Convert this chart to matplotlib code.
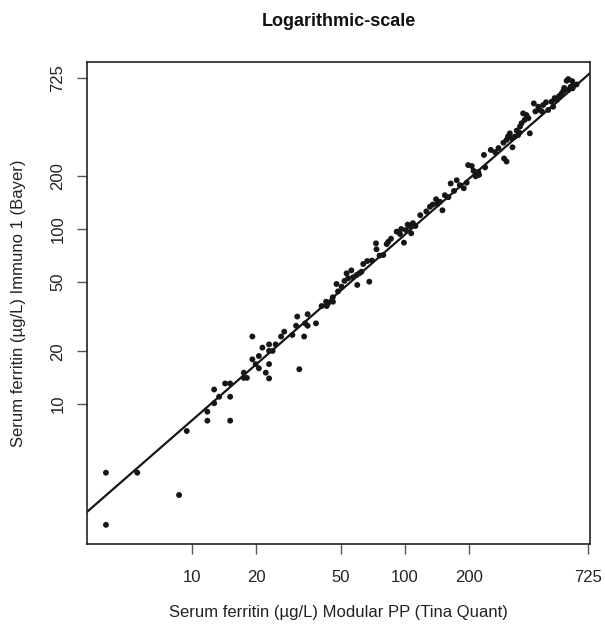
import matplotlib
matplotlib.use("Agg")
import matplotlib.pyplot as plt
import numpy as np

# Data (µg/L)
x_modular = [3.94, 3.94, 5.53, 8.69, 9.44, 11.8, 11.8, 12.7, 12.7, 13.4, 14.3, 15.1, 15.1, 15.1,
             17.5, 17.5, 18.1, 19.2, 19.2, 19.9, 20.6, 20.6, 21.4, 22.2, 23.0, 23.0, 23.0, 23.0,
             23.9, 24.7, 26.2, 27.1, 29.6, 31.2, 30.8, 31.9, 33.6, 34.0, 34.9, 34.9, 38.2, 40.6,
             42.9, 42.6, 45.9, 45.8, 47.7, 50.4, 53.2, 54.1, 57.1, 59.3, 61.0, 59.7, 63.7, 66.5,
             68.0, 73.1, 73.5, 79.1, 83.5, 82.1, 91.4, 94.8, 98.9, 101, 105, 109, 107, 126, 131,
             140, 146, 150, 142, 154, 160, 164, 181, 189, 195, 198, 206, 221, 223, 238, 235, 253,
             290, 300, 311, 317, 328, 340, 320, 292, 300, 359, 372, 347, 353, 386, 403, 423, 430,
             446, 471, 488, 516, 497, 545, 555, 575, 585, 613, 585,
             43.5, 48.5, 52.0, 56.0, 62.5, 70.0, 76.0, 86.0, 96.0, 103, 112, 118, 135, 170, 175,
             210, 215, 265, 275, 305, 335, 345, 365, 380, 410, 440, 460, 505, 530, 560, 600, 620,
             640, 610]
y_immuno = [4.05, 2.04, 4.05, 3.02, 7.01, 8.03, 9.04, 10.1, 12.1, 11.0, 13.1, 13.1, 11.0, 8.03,
            15.1, 14.1, 14.1, 24.3, 18.0, 16.9, 18.8, 16.0, 21.0, 15.1, 21.9, 20.1, 16.9, 14.0,
            20.1, 21.9, 24.3, 25.9, 24.8, 31.6, 28.0, 15.8, 24.3, 28.9, 32.6, 28.0, 28.9, 36.3,
            36.3, 38.4, 38.4, 40.7, 48.5, 46.8, 55.8, 52.3, 53.0, 54.6, 55.8, 47.9, 63.1, 65.6,
            50.0, 82.8, 76.6, 71.0, 84.5, 82.0, 96.6, 93.6, 83.5, 98.6, 104, 108, 94.5, 126, 134,
            148, 143, 128, 139, 156, 152, 182, 178, 171, 184, 232, 229, 212, 204, 225, 265, 283,
            311, 323, 352, 330, 337, 344, 293, 253, 243, 458, 448, 385, 402, 352, 522, 500, 479,
            511, 479, 534, 545, 500, 596, 616, 703, 622, 636, 719,
            37.5, 44.0, 50.5, 58.0, 57.0, 66.0, 70.5, 88.0, 100, 106, 104, 120, 138, 165, 190,
            215, 200, 275, 290, 338, 365, 355, 420, 430, 470, 470, 530, 560, 575, 640, 650, 660,
            670, 700]

# Regression line in log10 space
line_intercept = -0.154
line_slope = 1.061

tick_values = [10, 20, 50, 100, 200, 725]
tick_labels = ["10", "20", "50", "100", "200", "725"]

plt.rcParams['font.family'] = ['Liberation Sans', 'DejaVu Sans']

fig = plt.figure(figsize=(6.05, 6.31), dpi=100)
ax = fig.add_axes([87/605, 1-544/631, (590-87)/605, (544-62)/631])

ax.set_xscale('log')
ax.set_yscale('log')
xlim = (3.21, 740)
ylim = (1.585, 900)
ax.set_xlim(*xlim)
ax.set_ylim(*ylim)

ax.scatter(x_modular, y_immuno, s=18, color='#161616', edgecolors='none', zorder=3)

xl = np.array(xlim)
ax.plot(xl, 10 ** (line_intercept + line_slope * np.log10(xl)), color='#161616', lw=1.6, zorder=2)

ax.xaxis.set_major_locator(matplotlib.ticker.FixedLocator(tick_values))
ax.xaxis.set_major_formatter(matplotlib.ticker.FixedFormatter(tick_labels))
ax.yaxis.set_major_locator(matplotlib.ticker.FixedLocator(tick_values))
ax.yaxis.set_major_formatter(matplotlib.ticker.FixedFormatter(tick_labels))
ax.xaxis.set_minor_locator(matplotlib.ticker.NullLocator())
ax.yaxis.set_minor_locator(matplotlib.ticker.NullLocator())

ax.tick_params(axis='both', which='major', length=7.5, width=1.0, color='#555555',
               labelsize=12, labelcolor='#222222')
ax.tick_params(axis='x', pad=11.5)
ax.tick_params(axis='y', pad=8)
for lab in ax.get_yticklabels():
    lab.set_rotation(90)
    lab.set_va('center')

for sp in ax.spines.values():
    sp.set_linewidth(1.2)
    sp.set_color('#222222')

ax.set_xlabel("Serum ferritin (µg/L) Modular PP (Tina Quant)", fontsize=12, color='#222222')
ax.set_ylabel("Serum ferritin (µg/L) Immuno 1 (Bayer)", fontsize=12, color='#222222')
ax.xaxis.label.set_va('center')
ax.yaxis.label.set_va('center')
ax.xaxis.set_label_coords(0.5, (544-612)/482)
ax.yaxis.set_label_coords((19-87)/503, 0.5)

ax.set_title("Logarithmic-scale", fontsize=13, fontweight='bold', color='#111111',
             y=1 + (62-22)/482, va='center', pad=0)

fig.savefig("out.png", dpi=100)
